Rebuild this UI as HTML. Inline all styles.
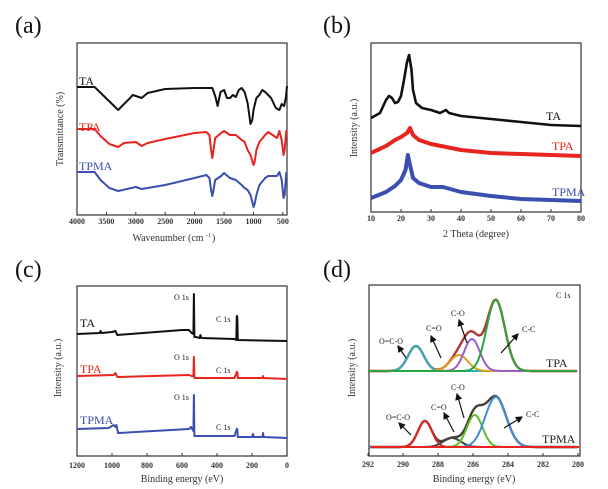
<!DOCTYPE html>
<html><head><meta charset="utf-8">
<style>
body{margin:0;background:#fff;}
svg{display:block;font-family:"Liberation Serif",serif;}
</style></head>
<body>
<svg id="fig" width="608" height="489" viewBox="0 0 608 489"></svg>
<script>
// ---------- Panel (a) FTIR data ----------
const aTAx=[4000,3700,3300,3050,2900,2800,2500,2000,1700,1650,1610,1560,1500,1450,1400,1350,1300,1250,1200,1150,1100,1050,1020,1000,950,900,850,800,700,620,560,520,480,450,430];
const aTAy=[128,128,105,120,117,122,126,127,127,119,109,123,125,117,117,120,118,125,127,123,112,91,95,105,117,120,125,123,117,107,105,111,109,117,129];
const aTPAx=[4000,3700,3600,3450,3300,3200,3000,2900,2800,2500,2000,1800,1750,1720,1700,1680,1650,1550,1500,1400,1300,1200,1150,1100,1050,1000,980,950,900,800,750,700,600,560,520,490,470,440];
const aTPAy=[86,86,79,71,68,72,73,69,72,76,82,83,80,65,57,65,77,82,84,80,80,75,73,65,60,50,53,65,73,80,83,81,77,84,75,60,65,85];
const aTPMAx=[4000,3700,3600,3450,3300,3000,2900,2500,2000,1800,1750,1720,1700,1680,1650,1550,1500,1400,1300,1200,1150,1100,1050,1000,980,950,900,800,750,600,560,520,490,470,440];
const aTPMAy=[43,43,35,27,24,28,26,30,37,40,37,25,19,25,35,39,42,37,35,30,27,25,20,8,11,20,30,37,39,39,43,35,17,20,43];
const aTicks=[4000,3500,3000,2500,2000,1500,1000,500];
// ---------- Panel (b) XRD data ----------
const bTAx=[10,13,15,16,17,18,19,20,21,22,22.7,23.5,24,25,27,30,33,35,36,40,50,60,70,80];
const bTAy=[94,99,112,116,114,109,110,116,132,150,157,142,122,109,104,102,99,102,99,96,93,90,87,86];
const bTPAx=[10,15,18,20,22,23,24,26,30,40,50,60,70,80];
const bTPAy=[59,66,72,75,79,84,77,72,68,62,59,58,57,56];
const bTPMAx=[10,15,18,20,21.5,22.3,23,24,26,30,34,40,50,60,70,80];
const bTPMAy=[14,20,26,32,42,57,47,34,29,25,25,20,16,13,12,11];
const bTicks=[10,20,30,40,50,60,70,80];
// ---------- Panel (c) XPS survey ----------
const cTAx=[1200,1070,1065,1060,1000,980,970,600,560,545,535,532,529,520,500,495,490,300,290,287,284,281,0];
const cTAy=[367,368,370,368,369,370,366,371,371,368,367,407,364,364,363,366,363,362,361,385,384,361,360];
const cTPAx=[1200,990,980,970,560,545,535,532,529,300,287,284,281,140,138,136,0];
const cTPAy=[325,326,328,324,326,325,325,344,323,323,329,329,323,323,325,323,322];
const cTPMAx=[1200,1020,990,980,975,965,560,548,535,532,529,300,287,284,281,200,195,190,140,137,134,0];
const cTPMAy=[272,273,276,274,276,268,272,274,270,306,265,265,272,272,264,264,267,264,264,268,264,263];
const cTicks=[1200,1000,800,600,400,200,0];
// ---------- Panel (d) C1s fits ----------
const dTPAcenters=[289.26,286.8,286.06,284.7];
const dTPAheights=[25,16,32,71];
const dTPAsigmas=[0.45,0.5,0.45,0.52];
const dTPMAcenters=[288.75,287.2,285.9,284.7];
const dTPMAheights=[26,9,32,50];
const dTPMAsigmas=[0.4,0.5,0.45,0.6];
const dTicks=[292,290,288,286,284,282,280];

const NS="http://www.w3.org/2000/svg";
const svg=document.getElementById('fig');
function mk(tag,attrs,parent){const e=document.createElementNS(NS,tag);for(const k in attrs)e.setAttribute(k,attrs[k]);(parent||svg).appendChild(e);return e;}
function txt(s,x,y,size,fill,anchor,parent,extra){const e=mk('text',Object.assign({x:x,y:y,'font-size':size,fill:fill||'#222','text-anchor':anchor||'start'},extra||{}),parent);e.textContent=s;return e;}
function path(xs,ys,sx,sy){return xs.map((x,i)=>(i?'L':'M')+sx(x).toFixed(1)+','+sy(ys[i]).toFixed(1)).join(' ');}

function frame(L,T,R,B,name){
  const g=mk('g',{});
  
  
  const r=mk('rect',{x:L,y:T,width:R-L,height:B-T,fill:'none',stroke:'#333','stroke-width':1.2},g);
  
  
  return g;
}
function xticks(g,ticks,sx,B,ylab){
  ticks.forEach(t=>{
    const x=sx(t);
    mk('line',{x1:x,y1:B,x2:x,y2:B-3,stroke:'#333','stroke-width':1},g);
    const e=txt(String(t),x,ylab,8,'#333','middle',g,{'font-weight':'bold'});
    
    
  });
}
function series(g,d,color,w,name){
  const p=mk('path',{d:d,fill:'none',stroke:color,'stroke-width':w,'stroke-linejoin':'round'},g);
  
  
  return p;
}
function label(g,s,x,y,size,color,name,anchor){
  const e=txt(s,x,y,size,color,anchor,g);
  
  
  return e;
}
function ytitle(g,s,x,y,name){
  const e=txt(s,x,y,10,'#333','middle',g,{transform:'rotate(-90 '+x+' '+y+')'});
  
  
}
const BLK='#111',RED='#e8241e',BLU='#3a4fb0';

// ---- (a)
(function(){
  const L=77,T=43,R=287,B=215;
  const sx=v=>L+(4000-v)*(R-L)/(4000-430), sy=v=>B-v;
  const g=frame(L,T,R,B,'panel-a-ftir');
  label(g,'(a)',15,33,24,'#111','panel-label-a');
  xticks(g,aTicks,sx,B,224);
  series(g,path(aTAx,aTAy,sx,sy),BLK,2,'series-ta');
  series(g,path(aTPAx,aTPAy,sx,sy),RED,2,'series-tpa');
  series(g,path(aTPMAx,aTPMAy,sx,sy),BLU,2,'series-tpma');
  label(g,'TA',79,85,12,BLK,'legend-ta');
  label(g,'TPA',79,131,12,RED,'legend-tpa');
  label(g,'TPMA',79,170,12,BLU,'legend-tpma');
  ytitle(g,'Transmittance (%)',63,129,'y-axis-title-a');
  label(g,'Wavenumber (cm',168,241,10,'#333','x-axis-title-a','middle');
  label(g,'-1',206,237,6,'#333','x-axis-title-sup');
  label(g,')',212,241,10,'#333','x-axis-title-close');
})();
// ---- (b)
(function(){
  const L=371,T=43,R=581,B=212;
  const sx=v=>L+(v-10)*(R-L)/70, sy=v=>B-v;
  const g=frame(L,T,R,B,'panel-b-xrd');
  label(g,'(b)',323,33,24,'#111','panel-label-b');
  xticks(g,bTicks,sx,B,221);
  series(g,path(bTAx,bTAy,sx,sy),BLK,2.6,'series-ta');
  series(g,path(bTPAx,bTPAy,sx,sy),RED,4,'series-tpa');
  series(g,path(bTPMAx,bTPMAy,sx,sy),BLU,4,'series-tpma');
  label(g,'TA',546,120,12,BLK,'legend-ta');
  label(g,'TPA',552,150,12,RED,'legend-tpa');
  label(g,'TPMA',552,196,12,BLU,'legend-tpma');
  ytitle(g,'Intensity (a.u.)',357,128,'y-axis-title-b');
  label(g,'2 Theta (degree)',476,237,10,'#333','x-axis-title-b','middle');
})();
// ---- (c)
(function(){
  const L=77,T=286,R=287,B=456;
  const sx=v=>L+(1200-v)*(R-L)/1200, sy=v=>B+245-v;
  const g=frame(L,T,R,B,'panel-c-xps-survey');
  label(g,'(c)',15,277,24,'#111','panel-label-c');
  xticks(g,cTicks,sx,B,468);
  series(g,path(cTAx,cTAy,sx,sy),BLK,2,'series-ta');
  series(g,path(cTPAx,cTPAy,sx,sy),RED,2,'series-tpa');
  series(g,path(cTPMAx,cTPMAy,sx,sy),BLU,2,'series-tpma');
  label(g,'TA',80,327,12,BLK,'legend-ta');
  label(g,'TPA',80,373,12,RED,'legend-tpa');
  label(g,'TPMA',80,424,12,BLU,'legend-tpma');
  [300,360,400].forEach(y=>label(g,'O 1s',174,y,8,'#222','o1s-label'));
  [322,373,430].forEach(y=>label(g,'C 1s',216,y,8,'#222','c1s-label'));
  ytitle(g,'Intensity (a.u.)',61,368,'y-axis-title-c');
  label(g,'Binding energy (eV)',182,482,10,'#333','x-axis-title-c','middle');
})();
// ---- (d)
(function(){
  const L=369,T=285,R=580,B=456;
  const sx=v=>368+(292-v)*17.5, sy=v=>B-v;
  const g=frame(L,T,R,B,'panel-d-c1s');
  label(g,'(d)',323,277,24,'#111','panel-label-d');
  xticks(g,dTicks,sx,B,467);
  const E=[];for(let e=292;e>=280;e-=0.05)E.push(+e.toFixed(2));
  function gauss(c,h,s,e){return h*Math.exp(-0.5*((e-c)/s)**2);}
  function draw(centers,heights,sigmas,off,colors,envColor,envColor2,prefix){
    const env=E.map(e=>off+centers.reduce((a,c,i)=>a+gauss(c,heights[i],sigmas[i],e),0));
    series(g,path(E,env,sx,sy),envColor,2.4,prefix+'-envelope');
    series(g,path(E,env,sx,v=>sy(v)+0.6),envColor2,1,prefix+'-raw');
    centers.forEach((c,i)=>{
      const ys=E.map(e=>off+gauss(c,heights[i],sigmas[i],e));
      series(g,path(E,ys,sx,sy),colors[i],2,prefix+'-component-'+i);
    });
  }
  draw(dTPAcenters,dTPAheights,dTPAsigmas,85,['#22b5c8','#d8a21f','#9c5ec9','#28a640'],'#e8241e','#555','tpa');
  draw(dTPMAcenters,dTPMAheights,dTPMAsigmas,9,['#e8241e','#444','#5cbf2a','#3d8fd8'],'#5a4a40','#333','tpma');
  mk('path',{d:'M370,447 L579,447',stroke:'#e8241e','stroke-width':2},g);
  const defs=mk('defs',{});
  const m=mk('marker',{id:'ah',markerWidth:6,markerHeight:6,refX:5,refY:3,orient:'auto'},defs);
  mk('path',{d:'M0,0 L6,3 L0,6 z',fill:'#111'},m);
  const arrows=[[406,358,398,346],[441,358,431,336],[467,343,459,320],[501,353,518,334],
                [411,435,399,423],[454,432,444,413],[464,418,457,394],[504,428,522,417]];
  arrows.forEach(a=>{
    const l=mk('line',{x1:a[0],y1:a[1],x2:a[2],y2:a[3],stroke:'#111','stroke-width':1.2,'marker-end':'url(#ah)'},g);
    
    
  });
  label(g,'O=C-O',379,344,8,'#222','ococ-label-tpa');
  label(g,'C=O',426,331,8,'#222','co-double-label-tpa');
  label(g,'C-O',451,316,8,'#222','co-label-tpa');
  label(g,'C-C',522,332,8,'#222','cc-label-tpa');
  label(g,'C 1s',556,298,8,'#222','c1s-title');
  label(g,'TPA',546,367,12,'#222','legend-tpa');
  label(g,'O=C-O',386,420,8,'#222','ococ-label-tpma');
  label(g,'C=O',431,410,8,'#222','co-double-label-tpma');
  label(g,'C-O',451,390,8,'#222','co-label-tpma');
  label(g,'C-C',526,417,8,'#222','cc-label-tpma');
  label(g,'TPMA',542,443,12,'#222','legend-tpma');
  ytitle(g,'Intensity (a.u.)',355,368,'y-axis-title-d');
  label(g,'Binding energy (eV)',474,482,10,'#333','x-axis-title-d','middle');
})();
</script>
</body></html>
